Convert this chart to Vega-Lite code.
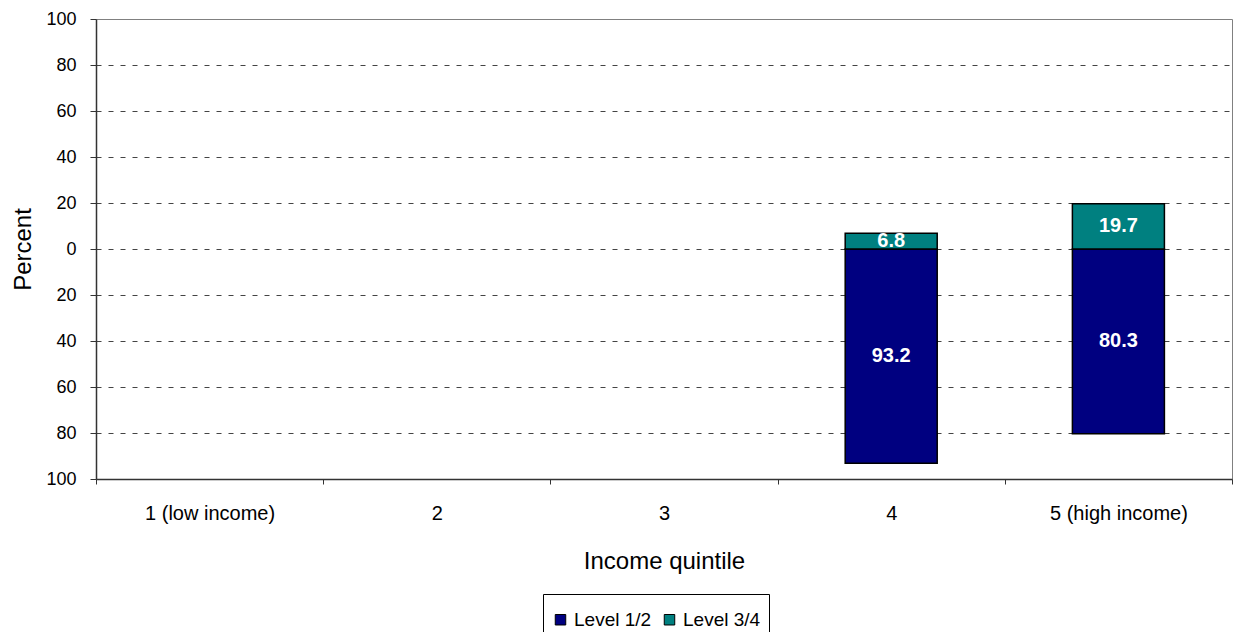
{
  "$schema": "https://vega.github.io/schema/vega-lite/v6.json",
  "width": 1136,
  "height": 460,
  "autosize": {"type": "none"},
  "padding": {"left": 96, "top": 19, "right": 2, "bottom": 153},
  "background": "white",
  "config": {
    "font": "Liberation Sans",
    "view": {"stroke": "#808080", "strokeWidth": 1}
  },
  "data": {
    "values": [
      {"quintile": "4", "level": "Level 1/2", "value": -93.2, "percent": 93.2},
      {"quintile": "4", "level": "Level 3/4", "value": 6.8, "percent": 6.8},
      {"quintile": "5 (high income)", "level": "Level 1/2", "value": -80.3, "percent": 80.3},
      {"quintile": "5 (high income)", "level": "Level 3/4", "value": 19.7, "percent": 19.7}
    ]
  },
  "encoding": {
    "x": {
      "field": "quintile",
      "type": "nominal",
      "sort": null,
      "scale": {
        "domain": ["1 (low income)", "2", "3", "4", "5 (high income)"],
        "paddingInner": 0,
        "paddingOuter": 0
      },
      "axis": {
        "title": "Income quintile",
        "labelAngle": 0,
        "labelFontSize": 20,
        "labelColor": "black",
        "labelPadding": 19,
        "tickBand": "extent",
        "tickSize": 5,
        "tickColor": "#333",
        "domainColor": "#333",
        "domainWidth": 1.5,
        "titleFontSize": 24,
        "titleFontWeight": "normal",
        "titleColor": "black",
        "titlePadding": 26,
        "grid": false
      }
    }
  },
  "layer": [
    {
      "mark": {"type": "bar", "stroke": "black", "strokeWidth": 1.5, "width": {"band": 0.405}},
      "encoding": {
        "y": {
          "field": "value",
          "type": "quantitative",
          "stack": null,
          "scale": {"domain": [-100, 100], "nice": false},
          "axis": {
            "title": "Percent",
            "values": [-100, -80, -60, -40, -20, 0, 20, 40, 60, 80, 100],
            "labelExpr": "abs(datum.value)",
            "labelFontSize": 18,
            "labelColor": "black",
            "labelPadding": 14,
            "tickSize": 6,
            "tickColor": "#333",
            "domainColor": "#333",
            "domainWidth": 1.5,
            "grid": true,
            "gridDash": [5, 7],
            "gridColor": "#444",
            "gridOpacity": {"condition": {"test": "abs(datum.value) == 100", "value": 0}, "value": 1},
            "titleFontSize": 24,
            "titleFontWeight": "normal",
            "titleColor": "black",
            "titlePadding": 10
          }
        },
        "color": {
          "field": "level",
          "type": "nominal",
          "scale": {"domain": ["Level 1/2", "Level 3/4"], "range": ["#000080", "#008080"]},
          "legend": {
            "title": " ",
            "titleFontSize": 6,
            "titlePadding": 2,
            "orient": "none",
            "legendX": 447,
            "legendY": 575,
            "direction": "horizontal",
            "strokeColor": "black",
            "fillColor": "white",
            "padding": 8,
            "symbolType": "square",
            "symbolSize": 110,
            "symbolStrokeColor": "black",
            "symbolStrokeWidth": 1,
            "symbolOpacity": 1,
            "labelFontSize": 19,
            "labelColor": "black",
            "columnPadding": 8
          }
        }
      }
    },
    {
      "transform": [{"calculate": "datum.value / 2", "as": "mid"}],
      "mark": {"type": "text", "color": "white", "fontWeight": "bold", "fontSize": 20, "baseline": "middle", "align": "center"},
      "encoding": {
        "y": {"field": "mid", "type": "quantitative"},
        "text": {"field": "percent", "type": "quantitative", "format": ".1f"}
      }
    }
  ]
}
